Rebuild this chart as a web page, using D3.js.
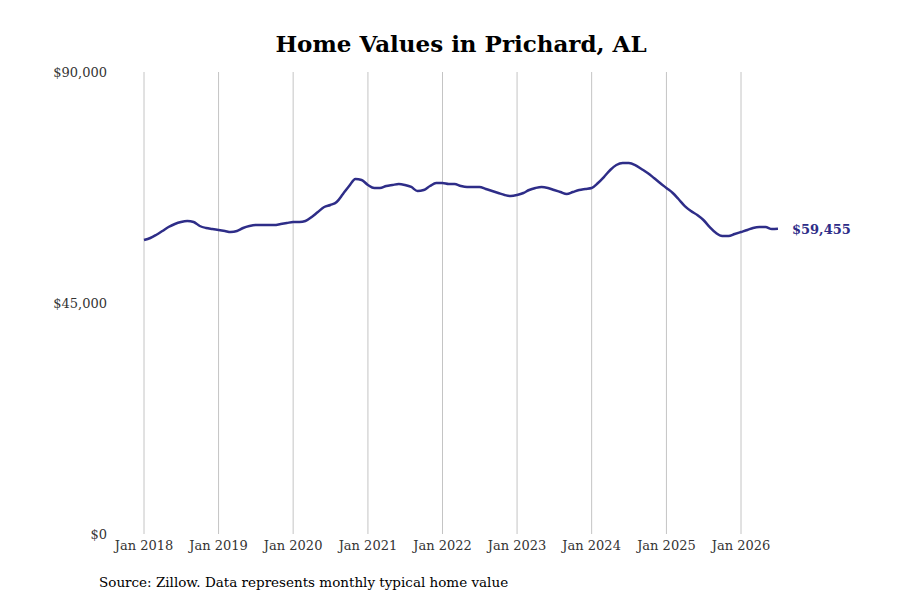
<!DOCTYPE html>
<html><head><meta charset="utf-8">
<script src="https://cdn.jsdelivr.net/npm/d3@7"></script>
<style>body{margin:0;background:#fff}</style>
</head><body>
<svg id="c" width="900" height="600"></svg>
<script>
var startYear = 2018;
var values = [
  57270,57660,58250,59020,59800,60390,60780,60970,60780,60000,59610,59410,
  59220,59020,58830,59020,59610,60000,60190,60190,60190,60190,60390,60580,
  60780,60780,60970,61750,62730,63700,64090,64670,66230,67790,69150,68960,
  67990,67400,67400,67790,67990,68180,67990,67600,66820,67010,67790,68370,
  68370,68180,68180,67790,67600,67600,67600,67210,66820,66430,66040,65840,
  66040,66430,67010,67400,67600,67400,67010,66620,66230,66620,67010,67210,
  67400,68370,69540,70910,71880,72270,72270,71880,71100,70320,69350,68370,
  67400,66430,65260,63890,62920,62140,61170,59800,58630,58050,58050,58440,
  58830,59220,59610,59800,59800,59410,59455
];
var yTicks = [0, 45000, 90000];
var xTickYears = [2018,2019,2020,2021,2022,2023,2024,2025,2026];

var data = values.map(function(v, i){ return {date: new Date(startYear, i, 1), v: v}; });
var svg = d3.select("#c");
var x = d3.scaleTime().domain([new Date(2018,0,1), new Date(2026,0,1)]).range([144, 741]);
var y = d3.scaleLinear().domain([0, 90000]).range([534, 72]);
var font = "DejaVu Serif";

svg.append("text").attr("x", 461).attr("y", 52).attr("text-anchor", "middle")
  .attr("font-family", font).attr("font-weight", "bold").attr("font-size", 23)
  .text("Home Values in Prichard, AL");

xTickYears.forEach(function(yr){
  var px = x(new Date(yr,0,1));
  svg.append("line").attr("x1", px).attr("x2", px).attr("y1", 72).attr("y2", 534)
    .attr("stroke", "#c4c4c4").attr("stroke-width", 1);
  svg.append("text").attr("x", px).attr("y", 550).attr("text-anchor", "middle")
    .attr("font-family", font).attr("font-size", 13).attr("fill", "#333").text("Jan " + yr);
});
yTicks.forEach(function(t){
  svg.append("text").attr("x", 107).attr("y", y(t) + 5).attr("text-anchor", "end")
    .attr("font-family", font).attr("font-size", 13).attr("fill", "#333")
    .text("$" + d3.format(",")(t));
});

svg.append("path").datum(data)
  .attr("d", d3.line().x(function(d){return x(d.date);}).y(function(d){return y(d.v);}).curve(d3.curveMonotoneX))
  .attr("fill", "none").attr("stroke", "#2e2d88").attr("stroke-width", 2.5);

var last = data[data.length-1];
svg.append("text").attr("x", x(last.date) + 14).attr("y", y(last.v) + 5)
  .attr("font-family", font).attr("font-weight", "bold").attr("font-size", 13).attr("fill", "#2e2d88")
  .text("$" + d3.format(",")(last.v));

svg.append("text").attr("x", 99).attr("y", 587).attr("font-family", font).attr("font-size", 13.5)
  .text("Source: Zillow. Data represents monthly typical home value");
</script>
</body></html>
